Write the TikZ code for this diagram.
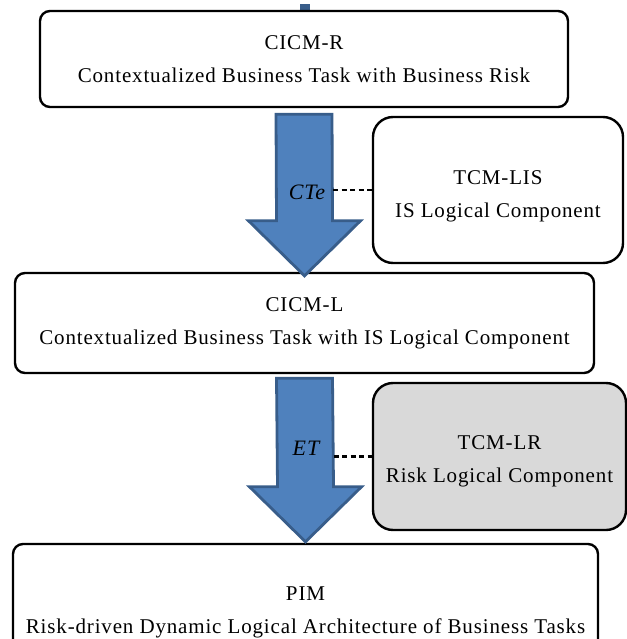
\documentclass[tikz,border=0pt]{standalone}
\usepackage{fontspec}
\setmainfont{Liberation Serif}[LetterSpace=4]
\usepackage{xcolor}
\usepackage{tikz}
\usetikzlibrary{calc}

\definecolor{arrowfill}{HTML}{4F81BD}
\definecolor{arrowline}{HTML}{385D8A}
\definecolor{riskgray}{HTML}{D9D9D9}

% block arrow from shaft top #1 down to tip #2
\newcommand{\bigarrow}[2]{%
  \draw[bigarrow] ($(#1)+(-28,0)$) -- ($(#2)+(-28,-55)$) -- ($(#2)+(-56,-55)$)
    -- (#2) -- ($(#2)+(56,-55)$) -- ($(#2)+(28,-55)$) -- ($(#1)+(28,0)$) -- cycle;}

\begin{document}
\begin{tikzpicture}[
  x=1pt, y=-1pt,
  model/.style={draw, line width=2.4pt, rounded corners=10pt, align=center,
    font=\fontsize{21}{33}\selectfont, inner sep=0pt},
  comp/.style={model, rounded corners=20pt},
  boxtext/.style={align=center, font=\fontsize{21}{33}\selectfont, inner sep=0pt},
  bigarrow/.style={fill=arrowfill, draw=arrowline, line width=2.8pt, line join=miter},
  link/.style={line width=2.2pt, dash pattern=on 5pt off 3.5pt},
  trans/.style={font=\fontsize{22}{22}\selectfont\itshape, inner sep=0pt}
]
\useasboundingbox (0,0) rectangle (626,639);

% stub of an arrow coming from above
\fill[arrowline] (300,4) rectangle (310,11);

\node[model, fill=white, minimum width=528pt, minimum height=96pt] (cicmr) at (304,59)
  {CICM-R\\Contextualized Business Task with Business Risk};
\node[model, minimum width=579pt, minimum height=100pt] (cicml) at (304.5,323)
  {CICM-L\\Contextualized Business Task with IS Logical Component};
\node[model, minimum width=585pt, minimum height=136pt] (pim) at (305.5,612)
  {PIM\\Risk-driven Dynamic Logical Architecture of Business Tasks};
\node[comp, minimum width=250pt, minimum height=146pt] (tcmlis) at (498,190) {};
\node[boxtext] (tcmlistext) at ($(tcmlis)+(0,6)$) {TCM-LIS\\IS Logical Component};
\node[comp, fill=riskgray, minimum width=253pt, minimum height=147pt] (tcmlr) at (499.5,456.5) {};
\node[boxtext] (tcmlrtext) at ($(tcmlr)+(0,5)$) {TCM-LR\\Risk Logical Component};

\coordinate (ctetop) at ($(cicmr.south)+(0,6)$);
\coordinate (ctetip) at ($(cicml.north)+(0,4)$);
\coordinate (ettop) at ($(cicml.south)+(0,4)$);
\coordinate (ettip) at ($(pim.north)+(0,-1)$);
\bigarrow{ctetop}{ctetip}
\bigarrow{ettop}{ettip}

\node[trans] (cte) at (307,192) {CTe};
\node[trans] (et) at (306,448) {ET};

\coordinate (cteedge) at ($(ctetop)+(29,0)$);
\coordinate (etedge) at ($(ettop)+(29,0)$);
\draw[link] (cteedge |- tcmlis.west) -- (tcmlis.west);
\draw[link] (etedge |- tcmlr.west) -- (tcmlr.west);
\end{tikzpicture}
\end{document}
